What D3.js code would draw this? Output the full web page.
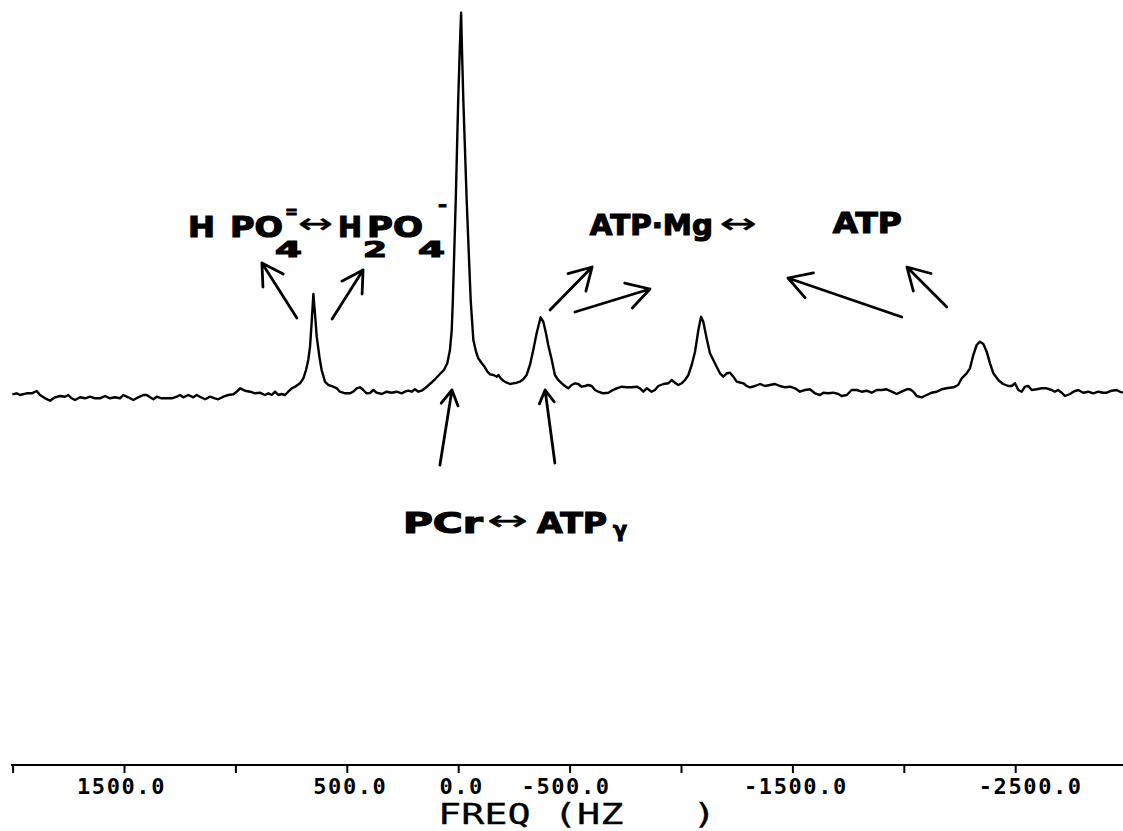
<!DOCTYPE html>
<html>
<head>
<meta charset="utf-8">
<script src="https://cdn.jsdelivr.net/npm/d3@7"></script>
<style>
  html, body { margin: 0; padding: 0; background: #fff; }
  svg { display: block; }
</style>
</head>
<body>
<svg id="chart" width="1123" height="831"></svg>
<script>
// 31P NMR spectrum: frequency offset (Hz) and signal intensity (arbitrary units)
const freqHz = [
  2001, 1982, 1967, 1937, 1914, 1892, 1877, 1854, 1832, 1810, 1787, 1765, 1750, 1735, 1720, 1697,
  1675, 1652, 1630, 1608, 1585, 1563, 1540, 1518, 1503, 1481, 1458, 1436, 1413, 1398, 1383, 1368,
  1353, 1331, 1308, 1286, 1263, 1249, 1234, 1211, 1189, 1174, 1159, 1136, 1114, 1092, 1077, 1054,
  1032, 1009, 994, 979, 957, 934, 912, 890, 867, 852, 837, 822, 807, 792, 777, 763,
  747, 732, 710, 695, 683, 673, 665, 658, 650, 643, 635, 623, 613, 598, 583, 561,
  545, 531, 508, 486, 471, 456, 441, 426, 411, 396,
  381, 366, 343, 321, 299, 276, 254, 239, 224, 209, 194, 179, 164, 149, 127, 104,
  82, 64, 49, 37, 29, 24, 11, 0, -7, -13, -17, -23, -38, -56, -68, -80,
  -90, -106, -120, -131, -143, -158, -173, -180, -191, -202, -218, -233, -247, -263, -277, -292,
  -307, -322, -337, -352, -370, -382, -394, -404, -420, -434, -449, -465, -479, -494, -509, -524,
  -539, -554, -569, -584, -599, -614, -629, -651, -674, -689, -711, -734, -756, -779, -801, -816,
  -831, -846, -868, -883, -898, -921, -943, -958, -973, -988, -1003, -1018, -1033, -1048, -1063, -1078,
  -1090, -1100, -1115, -1130, -1145, -1160, -1175, -1190, -1205, -1220, -1235, -1250, -1265,
  -1280, -1295, -1310, -1332, -1355, -1377, -1399, -1422, -1444, -1467, -1489, -1512, -1534, -1556, -1579, -1601,
  -1624, -1639, -1661, -1683, -1706, -1721, -1744, -1766, -1789, -1811, -1833, -1856, -1878, -1901, -1923, -1946,
  -1968, -1990, -2013, -2028, -2043, -2058, -2080, -2103, -2125, -2148, -2170, -2192, -2222, -2244, -2260, -2282,
  -2297, -2312, -2327, -2342, -2357, -2372, -2387, -2402, -2424, -2446, -2469, -2484, -2499, -2514, -2529, -2544,
  -2559, -2574, -2596, -2619, -2641, -2664, -2678, -2693, -2709, -2723, -2746, -2761, -2783, -2805, -2828, -2850,
  -2873, -2895, -2911, -2933, -2955, -2970, -2984
];
const intensity = [
  1.7, 2.7, 1.0, 2.7, 2.7, 5.0, 1.0, -2.3, -4.7, -1.3, 0.0, -0.7, 1.0, -2.3, -4.0, -1.3,
  -2.3, -0.7, -2.3, -2.3, 0.0, -2.3, -1.3, -2.3, 1.0, -1.3, -4.0, -1.3, 1.0, 1.0, -1.3, -3.3,
  -0.7, -2.3, -2.3, -2.3, -0.7, 1.0, -1.3, 1.0, -1.3, 1.0, -0.7, -3.3, -0.7, -2.3, -3.3, -0.7,
  1.0, 1.7, 4.3, 7.7, 5.3, 4.3, 2.7, 3.3, 1.0, 2.7, 1.0, 4.3, 1.0, 2.0, 1.0, 4.3,
  7.7, 9.3, 12.7, 17.7, 26.0, 36.0, 49.3, 72.7, 102.0, 82.7, 59.3, 39.3, 26.0, 14.3, 11.0, 9.3,
  7.7, 4.3, 2.7, 2.7, 4.3, 7.7, 8.7, 6.0, 2.7, 3.0,
  6.0, 3.3, 2.0, 4.3, 3.3, 4.3, 2.7, 4.3, 5.3, 4.3, 6.7, 4.3, 5.3, 7.7, 12.0, 16.7,
  22.0, 26.0, 32.7, 46.0, 66.0, 96.0, 196.0, 296.0, 346.0, 383.3, 346.0, 296.0, 196.0, 96.0, 56.0, 44.3,
  37.7, 32.7, 28.7, 24.3, 21.7, 21.0, 19.3, 21.0, 17.7, 15.3, 13.3, 12.0, 12.7, 13.3, 14.3, 16.7,
  21.0, 31.0, 46.0, 62.7, 78.7, 74.3, 62.7, 51.0, 36.0, 21.0, 16.0, 12.7, 10.0, 7.7, 11.0, 12.7,
  12.0, 9.3, 10.0, 11.0, 10.0, 6.0, 4.3, 2.7, 3.3, 5.3, 7.7, 9.3, 8.7, 8.7, 9.3, 7.7,
  4.3, 7.7, 4.3, 6.0, 10.0, 12.0, 12.7, 16.0, 13.3, 11.0, 12.7, 16.0, 21.0, 31.0, 44.3, 66.0,
  79.3, 74.3, 57.7, 42.7, 36.0, 29.3, 22.7, 19.3, 22.7, 23.3, 19.3, 14.3, 13.5,
  12.7, 10.0, 8.7, 10.0, 12.0, 10.0, 11.0, 12.0, 10.0, 8.7, 9.3, 7.7, 4.3, 6.0, 6.7, 2.7,
  1.0, 3.3, 2.7, 3.3, 2.0, 0.0, 1.0, 6.0, 6.0, 4.3, 5.3, 3.3, 6.0, 6.0, 6.7, 4.3,
  2.0, 4.3, 6.7, 6.7, 4.3, 0.0, -1.3, 1.0, 3.3, 4.3, 6.7, 7.7, 8.7, 11.0, 17.7, 22.7,
  27.7, 41.0, 51.0, 54.3, 52.0, 44.3, 32.7, 22.7, 16.0, 12.0, 10.0, 10.0, 12.7, 6.0, 4.3, 9.3,
  10.0, 6.0, 6.7, 7.7, 7.7, 6.0, 4.3, 6.0, 3.3, 0.0, 2.0, 4.3, 6.0, 3.3, 4.3, 2.7,
  4.3, 3.3, 3.3, 5.3, 6.0, 4.3, 3.3
];

// Frequency axis ticks every 500 Hz; the plotter prints a label on some of them
const tickHz = [2000, 1500, 1000, 500, 0, -500, -1000, -1500, -2000, -2500];
const tickLabels = ["", "1500.0", "", "500.0", "0.0", "-500.0", "", "-1500.0", "", "-2500.0"];
const axisTitle = "FREQ (HZ   )";

// Exchange annotations: arrows from tail to tip, in (Hz, intensity)
const arrowTailHz  = [724, 566, -412, -524, -1991, -2193, 82, -434];
const arrowTailVal = [78, 77, 86, 84, 79, 89, -69, -67];
const arrowTipHz   = [881, 427, -601, -861, -1480, -2014, 28, -390];
const arrowTipVal  = [133, 126, 129, 107, 118, 129, 6, 6];

// Label pieces: text, anchor Hz, anchor intensity (baseline), kind
const labelText = ["H", "PO", "=", "4", "\u2194", "H", "2", "PO", "-", "4",
                   "ATP\u00B7Mg", "\u2194", "ATP",
                   "PCr", "\u2194", "ATP", "\u03B3"];
const labelHz   = [1213, 1024, 777, 822, 719, 540, 427, 409, 91, 180,
                   -591, -1174, -1681,
                   248, -129, -354, -695];
const labelVal  = [159, 159, 178, 139, 163, 159, 139, 159, 185, 139,
                   161, 163, 163,
                   -137, -134, -137, -141];
const labelKind = ["cap", "cap", "sup", "sub", "arrow", "cap", "sub", "cap", "sup", "sub",
                   "cap", "arrow", "cap",
                   "cap", "arrow", "cap", "sub"];

// ---- layout and styling ----
const W = 1123, H = 831;
const axisY = 765;
const headLen = [24, 24, 25, 26, 26, 25, 17, 15];
const labelWidth = [27, 53, 13, 27, 35, 24, 24, 56, 9, 27,
                    123, 37, 69,
                    80, 41, 70, 14];
const tickLabelShift = [0, -3, 0, 3, 3, -4, 0, 3, 0, 15];
const kindStyle = {
  cap:   { size: 29, weight: "bold",   stroke: 1.2 },
  sub:   { size: 21, weight: "bold",   stroke: 1.1 },
  sup:   { size: 18, weight: "bold",   stroke: 1.0 },
  arrow: { size: 28, weight: "normal", stroke: 0.4 }
};

const svg = d3.select("#chart");
svg.append("rect").attr("width", W).attr("height", H).attr("fill", "#fff");

const x = d3.scaleLinear().domain([2000, -3000]).range([12.6, 1126.6]);
const y = d3.scaleLinear().domain([0, 383.3]).range([396, 12.7]);

// spectrum trace
const spectrum = freqHz.map((f, i) => ({ f, v: intensity[i] }));
svg.append("path")
  .datum(spectrum)
  .attr("fill", "none")
  .attr("stroke", "#000")
  .attr("stroke-width", 2.4)
  .attr("stroke-linejoin", "round")
  .attr("d", d3.line().x(d => x(d.f)).y(d => y(d.v)));

// frequency axis
const axis = d3.axisBottom(x)
  .tickValues(tickHz)
  .tickSize(8)
  .tickSizeOuter(0)
  .tickFormat((d, i) => tickLabels[i]);

const gAxis = svg.append("g")
  .attr("transform", `translate(0,${axisY})`)
  .call(axis);
gAxis.attr("font-family", null).attr("font-size", null);
gAxis.select(".domain")
  .attr("d", `M11,0H${W}`)
  .attr("stroke", "#000")
  .attr("stroke-width", 2);
gAxis.selectAll(".tick line").attr("stroke", "#000").attr("stroke-width", 2);
gAxis.selectAll(".tick text")
  .attr("y", 29)
  .attr("dy", null)
  .attr("x", (d, i) => tickLabelShift[i])
  .attr("fill", "#000")
  .style("font-family", "'DejaVu Sans Mono', monospace")
  .style("font-weight", "bold")
  .style("font-size", "22px")
  .style("letter-spacing", "1.6px");

svg.append("text")
  .attr("x", 438)
  .attr("y", 824)
  .attr("textLength", 278)
  .attr("lengthAdjust", "spacingAndGlyphs")
  .style("white-space", "pre")
  .style("font-family", "'DejaVu Sans Mono', monospace")
  .style("font-size", "29px")
  .attr("fill", "#000")
  .attr("stroke", "#000")
  .attr("stroke-width", 0.3)
  .text(axisTitle);

// annotation arrows (open V heads)
const arrows = arrowTailHz.map((_, i) => ({
  x0: x(arrowTailHz[i]), y0: y(arrowTailVal[i]),
  x1: x(arrowTipHz[i]),  y1: y(arrowTipVal[i]),
  h: headLen[i]
}));
const arrowPath = a => {
  const dx = a.x0 - a.x1, dy = a.y0 - a.y1;
  const len = Math.hypot(dx, dy);
  const ux = dx / len, uy = dy / len;
  const ang = Math.PI / 6;
  const rot = s => [
    a.x1 + a.h * (ux * Math.cos(s * ang) - uy * Math.sin(s * ang)),
    a.y1 + a.h * (ux * Math.sin(s * ang) + uy * Math.cos(s * ang))
  ];
  const p = rot(1), q = rot(-1);
  return `M${a.x0},${a.y0}L${a.x1},${a.y1}M${p[0]},${p[1]}L${a.x1},${a.y1}L${q[0]},${q[1]}`;
};
svg.append("g")
  .selectAll("path")
  .data(arrows)
  .join("path")
  .attr("fill", "none")
  .attr("stroke", "#000")
  .attr("stroke-width", 2.8)
  .attr("stroke-linecap", "round")
  .attr("stroke-linejoin", "round")
  .attr("d", arrowPath);

// chemical-exchange labels
const labels = labelText.map((t, i) => ({
  t, x: x(labelHz[i]), y: y(labelVal[i]), w: labelWidth[i], k: kindStyle[labelKind[i]]
}));
svg.append("g")
  .selectAll("text")
  .data(labels)
  .join("text")
  .attr("x", d => d.x)
  .attr("y", d => d.y)
  .attr("textLength", d => d.w)
  .attr("lengthAdjust", "spacingAndGlyphs")
  .style("font-family", "'DejaVu Sans', sans-serif")
  .style("font-size", d => d.k.size + "px")
  .style("font-weight", d => d.k.weight)
  .attr("fill", "#000")
  .attr("stroke", "#000")
  .attr("stroke-width", d => d.k.stroke)
  .text(d => d.t);
</script>
</body>
</html>
